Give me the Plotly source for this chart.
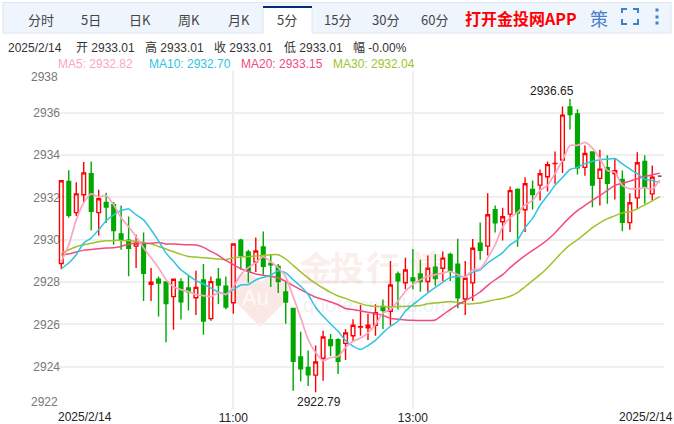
import plotly.graph_objects as go

candle_index = list(range(81))
opens = [2928.88,2932.75,2931.28,2932.13,2933.12,2931.28,2931.76,2931.66,2930.27,2929.98,
 2929.70,2929.80,2927.89,2928.14,2928.00,2927.31,2928.00,2927.72,2927.26,2928.10,
 2926.27,2928.14,2927.81,2927.02,2929.98,2929.42,2928.95,2929.66,2928.88,2928.74,
 2927.53,2926.75,2924.46,2923.96,2923.60,2924.40,2925.27,2925.27,2925.10,2925.46,
 2925.87,2925.84,2925.96,2926.85,2926.62,2928.38,2927.97,2928.20,2928.38,2928.03,
 2928.70,2928.65,2929.30,2928.85,2927.20,2927.96,2929.84,2929.70,2931.42,2930.85,
 2931.21,2932.38,2931.42,2932.38,2932.58,2932.98,2933.60,2933.77,2936.28,2935.95,
 2933.42,2934.15,2932.90,2933.40,2933.12,2932.85,2930.81,2931.98,2933.70,2932.17,2933.01]
closes = [2932.79,2931.15,2932.17,2933.16,2931.35,2931.94,2931.54,2930.44,2930.00,2929.60,
 2929.84,2928.41,2927.99,2927.95,2926.98,2928.13,2927.07,2927.54,2927.75,2926.16,
 2928.02,2927.86,2926.82,2929.80,2929.25,2928.53,2929.47,2928.74,2928.82,2928.03,
 2927.06,2924.26,2923.90,2923.62,2924.22,2925.40,2925.00,2924.26,2925.60,2925.96,
 2925.89,2925.96,2926.55,2926.67,2927.86,2928.06,2928.57,2928.06,2928.03,2928.65,
 2928.17,2929.13,2928.53,2927.26,2928.18,2929.60,2929.50,2931.18,2930.80,2931.09,
 2932.32,2931.26,2932.65,2932.14,2933.12,2933.55,2933.61,2935.89,2935.92,2933.40,
 2934.08,2932.58,2933.34,2932.67,2933.26,2930.83,2931.75,2933.64,2932.49,2932.96,2933.01]
highs = [2932.80,2933.29,2932.72,2933.68,2933.70,2932.36,2932.22,2931.78,2931.62,2931.10,
 2930.24,2930.34,2928.67,2928.26,2928.00,2928.13,2928.18,2928.30,2928.54,2928.85,
 2928.26,2928.67,2928.26,2929.80,2930.05,2929.53,2930.11,2930.39,2929.33,2928.85,
 2928.03,2926.75,2925.65,2924.77,2925.00,2925.70,2925.55,2925.35,2925.77,2926.24,
 2926.92,2926.50,2926.95,2927.18,2929.00,2928.50,2929.15,2929.56,2929.05,2929.25,
 2929.32,2929.45,2929.38,2930.05,2929.00,2930.03,2930.81,2932.20,2931.62,2931.51,
 2932.52,2932.43,2932.96,2932.80,2933.32,2933.70,2934.17,2936.30,2936.65,2936.17,
 2934.45,2934.15,2934.25,2934.00,2933.83,2933.27,2932.20,2934.13,2934.00,2933.51,2933.01]
lows = [2928.60,2931.04,2931.12,2931.75,2930.44,2930.20,2930.79,2929.76,2929.53,2928.27,
 2928.67,2927.10,2927.10,2926.37,2925.15,2925.75,2926.23,2926.65,2926.44,2925.51,
 2926.17,2926.96,2926.72,2926.50,2928.59,2927.97,2928.47,2928.35,2927.77,2927.48,
 2926.03,2922.86,2923.30,2923.09,2922.79,2923.33,2924.50,2923.65,2924.32,2925.20,
 2925.46,2925.26,2925.46,2925.78,2925.95,2926.70,2927.66,2927.66,2927.54,2927.54,
 2927.83,2928.05,2928.05,2926.76,2926.44,2927.10,2929.06,2929.25,2930.34,2929.97,
 2930.37,2929.67,2930.37,2931.43,2931.86,2932.28,2932.65,2933.15,2935.21,2933.08,
 2933.03,2931.54,2931.62,2931.70,2931.90,2930.40,2930.47,2931.45,2931.70,2931.86,2933.01]

ma5 = [2928.96,2929.76,2930.94,2931.75,2932.17,2932.03,2932.08,2931.65,2931.04,2930.61,
 2930.14,2929.62,2929.15,2928.68,2928.11,2927.78,2927.64,2927.55,2927.41,2927.36,
 2927.31,2927.50,2927.41,2927.78,2928.35,2928.68,2928.92,2929.20,2928.96,2928.68,
 2928.25,2927.31,2926.32,2925.28,2924.67,2924.29,2924.43,2924.48,2924.91,2925.20,
 2925.36,2925.60,2925.99,2926.54,2926.70,2927.09,2927.56,2927.88,2928.11,2928.27,
 2928.35,2928.43,2928.50,2928.35,2928.24,2928.58,2928.63,2929.14,2929.76,2930.61,
 2931.04,2931.29,2931.65,2931.86,2932.33,2932.57,2933.13,2933.75,2934.46,2934.46,
 2934.60,2934.33,2933.83,2933.27,2933.19,2932.57,2932.41,2932.41,2932.46,2932.38,2932.82]
ma10 = [2928.63,2928.90,2929.29,2929.84,2930.08,2930.47,2930.90,2931.18,2931.38,2931.45,
 2931.18,2930.94,2930.47,2929.95,2929.37,2928.98,2928.58,2928.32,2928.07,2927.91,
 2927.72,2927.53,2927.45,2927.64,2927.86,2927.88,2928.10,2928.22,2928.32,2928.54,
 2928.43,2928.11,2927.80,2927.41,2926.81,2926.38,2926.02,2925.67,2925.24,2924.97,
 2924.81,2925.00,2925.24,2925.60,2925.91,2926.15,2926.62,2926.93,2927.20,2927.49,
 2927.75,2927.99,2928.22,2928.25,2928.27,2928.46,2928.58,2928.90,2929.14,2929.39,
 2929.76,2930.00,2930.57,2931.01,2931.62,2932.09,2932.57,2932.94,2933.32,2933.42,
 2933.60,2933.71,2933.78,2933.81,2933.84,2933.59,2933.35,2933.12,2932.86,2932.80,2932.70]
ma20 = [2929.29,2929.33,2929.42,2929.51,2929.54,2929.58,2929.61,2929.62,2929.68,2929.80,
 2929.84,2929.83,2929.83,2929.87,2929.80,2929.80,2929.78,2929.76,2929.75,2929.64,
 2929.45,2929.26,2929.02,2928.82,2928.63,2928.50,2928.38,2928.32,2928.27,2928.19,
 2928.03,2927.83,2927.64,2927.45,2927.28,2927.18,2927.06,2926.93,2926.75,2926.70,
 2926.64,2926.57,2926.52,2926.42,2926.29,2926.24,2926.21,2926.19,2926.18,2926.18,
 2926.21,2926.45,2926.70,2926.93,2927.12,2927.31,2927.53,2927.84,2928.11,2928.35,
 2928.68,2928.98,2929.25,2929.50,2929.73,2930.00,2930.32,2930.71,2931.07,2931.38,
 2931.62,2931.86,2932.09,2932.33,2932.57,2932.67,2932.77,2932.88,2932.99,2933.07,2933.15]
ma30 = [2929.37,2929.53,2929.67,2929.76,2929.83,2929.91,2929.95,2929.97,2929.97,2929.95,
 2929.92,2929.87,2929.81,2929.68,2929.56,2929.43,2929.31,2929.21,2929.18,2929.15,
 2929.12,2929.09,2929.06,2929.15,2929.18,2929.21,2929.23,2929.26,2929.29,2929.29,
 2929.09,2928.79,2928.48,2928.19,2927.94,2927.72,2927.51,2927.34,2927.23,2927.09,
 2926.98,2926.89,2926.85,2926.84,2926.82,2926.84,2926.85,2926.87,2926.89,2926.97,
 2927.01,2927.04,2927.08,2927.03,2926.97,2926.98,2927.01,2927.09,2927.17,2927.22,
 2927.33,2927.50,2927.78,2928.07,2928.35,2928.68,2929.06,2929.43,2929.76,2930.00,
 2930.28,2930.57,2930.80,2931.00,2931.13,2931.27,2931.32,2931.46,2931.65,2931.84,2932.04]

y_ticks = [2936, 2934, 2932, 2930, 2928, 2926, 2924]
x_tick_idx = [23, 47]
x_tick_txt = ["11:00", "13:00"]
tabs = [("分时", 41), ("5日", 91), ("日K", 140), ("周K", 189), ("月K", 239), ("5分", 287),
        ("15分", 337), ("30分", 385), ("60分", 434)]
info = [("2025/2/14", 6), ("开 2933.01", 74), ("高 2933.01", 143), ("收 2933.01", 212),
        ("低 2933.01", 282), ("幅 -0.00%", 351)]
ma_labels = [("MA5: 2932.82", 56, "#fba5c2"), ("MA10: 2932.70", 147, "#2ec4e2"),
             ("MA20: 2933.15", 239, "#f34a80"), ("MA30: 2932.04", 331, "#9cc42c")]

W, H = 674, 424
RED, GREEN = "#ff0000", "#00a800"
SANS = "Liberation Sans, Noto Sans CJK SC, sans-serif"
CJK = "Noto Sans CJK SC, Liberation Sans, sans-serif"


def px(x):
    return x / W


def py(y):
    return 1 - y / H


def pt(x, y):
    return f"{px(x):.5f},{py(y):.5f}"


fig = go.Figure()
fig.add_trace(go.Candlestick(
    x=candle_index[:-1], open=opens[:-1], high=highs[:-1], low=lows[:-1], close=closes[:-1],
    increasing=dict(line=dict(color=RED, width=1.4), fillcolor="rgba(255,255,255,0)"),
    decreasing=dict(line=dict(color=GREEN, width=1.4), fillcolor=GREEN),
    whiskerwidth=0, showlegend=False, hoverinfo="skip"))
fig.add_trace(go.Candlestick(
    x=candle_index[-1:], open=opens[-1:], high=highs[-1:], low=lows[-1:], close=closes[-1:],
    increasing=dict(line=dict(color="#333333", width=1.2), fillcolor="#333333"),
    decreasing=dict(line=dict(color="#333333", width=1.2), fillcolor="#333333"),
    whiskerwidth=0, showlegend=False, hoverinfo="skip"))
for vals, col, w in [(ma30, "#9cc42c", 1.5), (ma20, "#f34a80", 1.5),
                     (ma10, "#2ec4e2", 1.5), (ma5, "#fba5c2", 1.7)]:
    fig.add_trace(go.Scatter(x=candle_index, y=vals, mode="lines",
                             line=dict(color=col, width=w, shape="spline", smoothing=0.6),
                             showlegend=False, hoverinfo="skip"))

ann = []


def text(t, x, y, size=12, color="#333333", anchor="left", font=SANS, bold=False):
    s = f"<b>{t}</b>" if bold else t
    ann.append(dict(text=s, xref="paper", yref="paper", x=px(x), y=py(y), xanchor=anchor,
                    yanchor="middle", showarrow=False, font=dict(size=size, color=color, family=font)))


for t, x in tabs:
    text(t, x, 20, 13, "#444444", "center", CJK)
text("打开金投网APP", 521, 18, 16, "#ff0000", "center", CJK, True)
text("策", 599, 18, 18, "#4a80c8", "center", CJK)
for t, x in info:
    text(t, x, 48, 12, "#333333", "left", SANS)
for t, x, c in ma_labels:
    text(t, x, 64, 12, c, "left", SANS)
text("2938", 60, 77, 12, "#777777", "right")
text("2922", 60, 402, 12, "#777777", "right")
text("2025/2/14", 56, 417, 12, "#222222", "left")
text("2025/2/14", 675, 417, 12, "#222222", "right")
for t, x in [("金", 316), ("投", 347), ("行", 383), ("情", 428)]:
    text(t, x, 266, 34, "rgba(225,120,100,0.15)", "center", CJK, True)
text("quote.cngold.org", 377, 305, 20, "rgba(120,130,130,0.12)", "center", SANS)
text("Au", 255, 297, 22, "rgba(255,255,255,0.8)", "center", SANS)
ann.append(dict(text="2936.65", x=68, y=highs[68], xref="x", yref="y", yshift=-1, xshift=-18,
                yanchor="bottom", xanchor="center", showarrow=False,
                font=dict(size=12, color="#222222", family=SANS)))
ann.append(dict(text="2922.79", x=34, y=lows[34], xref="x", yref="y", yshift=-1, xshift=3,
                yanchor="top", xanchor="center", showarrow=False,
                font=dict(size=12, color="#222222", family=SANS)))

shapes = [
    dict(type="rect", xref="paper", yref="paper", x0=px(3), x1=px(671), y0=py(33), y1=py(2.5),
         fillcolor="#eff5fd", line=dict(color="#dde6f2", width=1), layer="below"),
    dict(type="rect", xref="paper", yref="paper", x0=px(263), x1=px(312), y0=py(34), y1=py(6),
         fillcolor="#ffffff", line=dict(width=0), layer="below"),
    dict(type="line", xref="paper", yref="paper", x0=px(263), x1=px(312), y0=py(7), y1=py(7),
         line=dict(color="#0a2a80", width=2), layer="below"),
    dict(type="line", xref="paper", yref="paper", x0=px(263), x1=px(263), y0=py(8), y1=py(33),
         line=dict(color="#dde6f2", width=1), layer="below"),
    dict(type="line", xref="paper", yref="paper", x0=px(312), x1=px(312), y0=py(8), y1=py(33),
         line=dict(color="#dde6f2", width=1), layer="below"),
]
# heart of the watermark
heart = (f"M {pt(260, 327)} L {pt(234, 300)} C {pt(224, 288)} {pt(238, 270)} {pt(250, 274)} "
         f"C {pt(256, 276)} {pt(259, 280)} {pt(261, 284)} C {pt(264, 278)} {pt(272, 273)} {pt(280, 276)} "
         f"C {pt(293, 281)} {pt(291, 296)} {pt(284, 303)} Z")
shapes.append(dict(type="path", xref="paper", yref="paper", path=heart,
                   fillcolor="#fae8e4", line=dict(width=0), layer="below"))
# full-screen icon corners
for a, b, c in [((622, 13), (622, 9), (627, 9)), ((633, 9), (638, 9), (638, 13)),
                ((622, 19), (622, 24), (627, 24)), ((633, 24), (638, 24), (638, 19))]:
    shapes.append(dict(type="path", xref="paper", yref="paper",
                       path=f"M {pt(*a)} L {pt(*b)} L {pt(*c)}",
                       line=dict(color="#3f7fcc", width=2), layer="above"))
for yy in (10, 17, 23):
    shapes.append(dict(type="rect", xref="paper", yref="paper", x0=px(655.5), x1=px(658.5),
                       y0=py(yy + 1.5), y1=py(yy - 1.5), fillcolor="#3f7fcc", line=dict(width=0)))

fig.update_layout(
    width=W, height=H, margin=dict(l=0, r=0, t=0, b=0), paper_bgcolor="white", plot_bgcolor="white",
    showlegend=False, annotations=ann, shapes=shapes, boxgap=0.3,
    xaxis=dict(domain=[px(58), px(664)], range=[-0.44, 80.57], rangeslider=dict(visible=False),
               tickmode="array", tickvals=x_tick_idx, ticktext=x_tick_txt, showgrid=True,
               gridcolor="#efefef", gridwidth=1.5, zeroline=False, showline=False, ticks="",
               tickfont=dict(size=12, color="#222222", family=SANS), fixedrange=True),
    yaxis=dict(domain=[py(409), py(70.5)], range=[2922, 2938], tickmode="array",
               tickvals=[2938] + y_ticks + [2922], ticktext=[""] + [str(v) for v in y_ticks] + [""],
               showgrid=True, gridcolor="#efefef", gridwidth=1.5, zeroline=False, showline=False,
               ticks="", ticklabelstandoff=-3,
               tickfont=dict(size=12, color="#777777", family=SANS), fixedrange=True),
)

fig.write_html("out.html", config=dict(displayModeBar=False),
               post_script="document.body.style.margin='0';document.documentElement.style.overflow='hidden';")
